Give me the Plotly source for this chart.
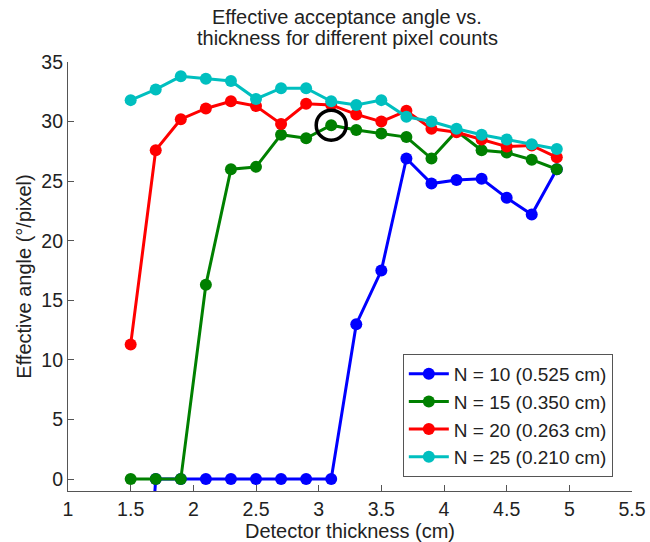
import plotly.graph_objects as go

thickness = [1.5, 1.7, 1.9, 2.1, 2.3, 2.5, 2.7, 2.9, 3.1, 3.3, 3.5, 3.7, 3.9, 4.1, 4.3, 4.5, 4.7, 4.9]

n10 = [-30, 0, 0, 0, 0, 0, 0, 0, 0, 13.0, 17.5, 26.9, 24.8, 25.1, 25.2, 23.6, 22.2, 26.0]
n15 = [0, 0, 0, 16.3, 26.0, 26.2, 28.9, 28.6, 29.7, 29.3, 29.0, 28.7, 26.9, 29.2, 27.6, 27.4, 26.8, 26.0]
n20 = [11.3, 27.6, 30.2, 31.1, 31.7, 31.3, 29.8, 31.5, 31.4, 30.6, 30.0, 30.9, 29.4, 29.1, 28.5, 27.9, 28.0, 27.0]
n25 = [31.8, 32.7, 33.8, 33.6, 33.4, 31.9, 32.8, 32.8, 31.7, 31.4, 31.8, 30.4, 30.0, 29.4, 28.9, 28.5, 28.1, 27.7]

series_names = ["N = 10 (0.525 cm)", "N = 15 (0.350 cm)", "N = 20 (0.263 cm)", "N = 25 (0.210 cm)"]
series_values = [n10, n15, n20, n25]
series_colors = ["#0000FF", "#008000", "#FF0000", "#00BFBF"]

highlight_x = [3.1]
highlight_y = [29.7]

x_ticks = [1, 1.5, 2, 2.5, 3, 3.5, 4, 4.5, 5, 5.5]
y_ticks = [0, 5, 10, 15, 20, 25, 30, 35]

title_lines = ["Effective acceptance angle vs.", "thickness for different pixel counts"]

fig = go.Figure()
for name, vals, col in zip(series_names, series_values, series_colors):
    fig.add_trace(go.Scatter(
        x=thickness, y=vals, name=name, mode="lines+markers",
        line=dict(color=col, width=3),
        marker=dict(color=col, size=12),
    ))

fig.add_trace(go.Scatter(
    x=highlight_x, y=highlight_y, mode="markers", showlegend=False,
    marker=dict(symbol="circle-open", size=30, color="black", line=dict(width=3.5, color="black")),
    hoverinfo="skip",
))

axis_common = dict(
    showgrid=False, zeroline=False, showline=True, linecolor="#555555", linewidth=1.2,
    ticks="inside", ticklen=6, tickcolor="#555555", tickwidth=1,
    tickfont=dict(size=19.5, color="#222222"), mirror=False, automargin=False,
)

top_m, bot_m = 62, 51
plot_h = 542 - top_m - bot_m

fig.update_layout(
    width=650, height=542,
    margin=dict(l=68, r=18, t=top_m, b=bot_m),
    paper_bgcolor="white", plot_bgcolor="white",
    font=dict(family="Liberation Sans, Arial, sans-serif", color="#222222"),
    xaxis=dict(range=[1, 5.5], tickvals=x_ticks, ticktext=[f"{v:g}" for v in x_ticks],
               title=dict(text="Detector thickness (cm)", font=dict(size=20), standoff=0), **axis_common),
    yaxis=dict(range=[-1, 35], tickvals=y_ticks,
               title=dict(text="Effective angle (°/pixel)", font=dict(size=20), standoff=4), **axis_common),
    legend=dict(
        x=0.966, xanchor="right", y=0.033, yanchor="bottom",
        bordercolor="#555555", borderwidth=1, bgcolor="white",
        font=dict(size=19, color="#222222"), tracegroupgap=0, itemwidth=40,
    ),
    showlegend=True,
)

for line, ypix in zip(title_lines, [16.5, 38.5]):
    fig.add_annotation(
        text=line, xref="paper", yref="paper", x=0.495, y=1 + (top_m - ypix) / plot_h,
        xanchor="center", yanchor="middle", showarrow=False,
        font=dict(size=20, color="#222222"),
    )

fig.write_html("out.html")
